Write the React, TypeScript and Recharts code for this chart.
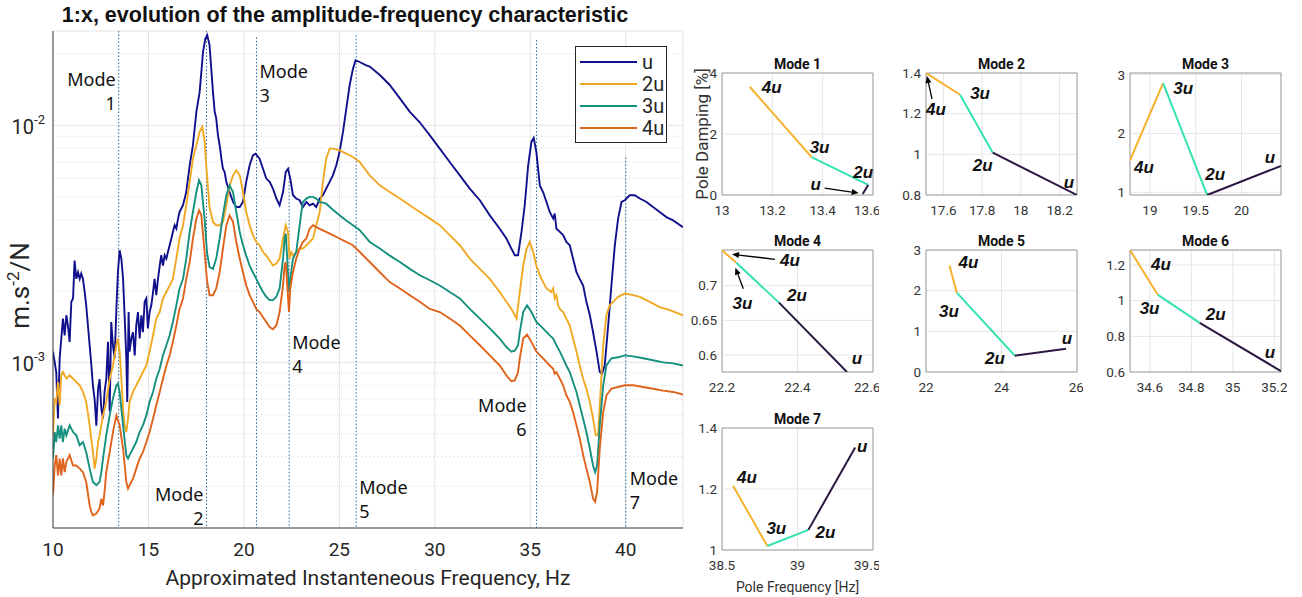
import React from "react";
import {
  LineChart,
  Line,
  XAxis,
  YAxis,
  CartesianGrid,
  ReferenceLine,
  ReferenceArea,
  Legend,
  LabelList,
} from "recharts";

type Pt = [number, number];

// main plot: [frequency Hz, amplitude m.s^-2/N]
const uCurve: Pt[] = [
  [10.0, 1.11e-3], [10.09, 1.0e-3], [10.17, 9.1e-4], [10.26, 5.8e-4], [10.35, 1.04e-3], [10.52, 1.53e-3],
  [10.61, 1.3e-3], [10.7, 1.58e-3], [10.78, 1.43e-3], [10.87, 1.22e-3], [10.96, 1.8e-3], [11.05, 1.86e-3],
  [11.13, 2.69e-3], [11.22, 2.25e-3], [11.31, 2.4e-3], [11.4, 2.25e-3], [11.48, 2.37e-3], [11.57, 2.25e-3],
  [11.66, 1.98e-3], [11.74, 1.74e-3], [11.83, 1.43e-3], [11.92, 1.18e-3], [12.01, 9.7e-4], [12.09, 8.0e-4],
  [12.18, 7.0e-4], [12.27, 5.4e-4], [12.36, 7.7e-4], [12.44, 8.5e-4], [12.53, 6.4e-4], [12.62, 5.8e-4],
  [12.7, 7.5e-4], [12.79, 8.5e-4], [12.88, 1.22e-3], [12.97, 6.2e-4], [13.05, 1.48e-3], [13.14, 1.18e-3],
  [13.23, 1.04e-3], [13.32, 1.68e-3], [13.4, 2.4e-3], [13.49, 2.97e-3], [13.58, 2.74e-3], [13.67, 2.25e-3],
  [13.75, 1.58e-3], [13.84, 1.04e-3], [13.89, 6.8e-4], [13.96, 1.63e-3], [14.01, 1.11e-3], [14.1, 1.26e-3],
  [14.19, 1.34e-3], [14.28, 1.07e-3], [14.36, 1.43e-3], [14.45, 1.63e-3], [14.54, 1.26e-3], [14.63, 1.58e-3],
  [14.71, 1.34e-3], [14.8, 1.8e-3], [14.89, 1.86e-3], [14.97, 1.39e-3], [15.06, 1.63e-3], [15.15, 1.74e-3],
  [15.24, 1.98e-3], [15.32, 2.25e-3], [15.41, 1.92e-3], [15.5, 2.25e-3], [15.59, 2.56e-3], [15.67, 2.83e-3],
  [15.76, 2.56e-3], [15.85, 2.83e-3], [15.94, 2.74e-3], [16.02, 2.92e-3], [16.11, 3.12e-3], [16.2, 3.33e-3],
  [16.28, 3.55e-3], [16.37, 3.79e-3], [16.46, 3.67e-3], [16.55, 4.04e-3], [16.63, 4.31e-3], [16.81, 4.6e-3],
  [16.98, 5.23e-3], [17.16, 6.78e-3], [17.33, 8.24e-3], [17.51, 1.14e-2], [17.68, 1.38e-2], [17.86, 2.04e-2],
  [17.98, 2.32e-2], [18.08, 2.4e-2], [18.2, 2.18e-2], [18.38, 1.38e-2], [18.47, 1.14e-2], [18.55, 1.07e-2],
  [18.64, 9.07e-3], [18.73, 8.24e-3], [18.82, 7.23e-3], [18.9, 6.56e-3], [18.99, 6.35e-3], [19.08, 5.77e-3],
  [19.25, 5.23e-3], [19.43, 4.75e-3], [19.6, 4.52e-3], [19.78, 4.52e-3], [19.95, 4.75e-3], [20.12, 5.77e-3],
  [20.3, 6.78e-3], [20.47, 7.47e-3], [20.61, 7.59e-3], [20.82, 7.23e-3], [21.0, 6.56e-3], [21.17, 5.96e-3],
  [21.35, 5.77e-3], [21.52, 5.41e-3], [21.7, 4.91e-3], [21.87, 4.6e-3], [22.05, 5.23e-3], [22.19, 6.35e-3],
  [22.31, 6.56e-3], [22.43, 5.96e-3], [22.57, 5.07e-3], [22.74, 4.91e-3], [22.92, 4.83e-3], [23.09, 4.52e-3],
  [23.27, 4.75e-3], [23.44, 4.6e-3], [23.62, 4.67e-3], [23.79, 4.52e-3], [23.97, 4.91e-3], [24.14, 5.07e-3],
  [24.31, 5.41e-3], [24.49, 5.77e-3], [24.66, 6.15e-3], [24.84, 6.78e-3], [25.01, 7.71e-3], [25.19, 9.38e-3],
  [25.36, 1.17e-2], [25.54, 1.48e-2], [25.71, 1.73e-2], [25.85, 1.88e-2], [26.06, 1.85e-2], [26.41, 1.79e-2],
  [26.59, 1.77e-2], [27.12, 1.63e-2], [27.64, 1.48e-2], [28.17, 1.3e-2], [28.69, 1.14e-2], [29.21, 1.03e-2],
  [29.74, 9.07e-3], [30.26, 7.97e-3], [30.78, 7.0e-3], [31.31, 6.15e-3], [31.83, 5.41e-3], [32.36, 4.83e-3],
  [32.88, 4.17e-3], [33.4, 3.66e-3], [33.75, 3.33e-3], [34.01, 3.02e-3], [34.19, 2.83e-3], [34.36, 2.83e-3],
  [34.54, 3.55e-3], [34.71, 4.6e-3], [34.89, 6.78e-3], [35.06, 8.51e-3], [35.18, 8.85e-3], [35.32, 7.71e-3],
  [35.5, 5.58e-3], [35.67, 5.23e-3], [35.85, 4.75e-3], [36.02, 4.31e-3], [36.2, 4.04e-3], [36.28, 4.24e-3],
  [36.37, 3.66e-3], [36.55, 3.55e-3], [36.72, 3.44e-3], [36.89, 3.22e-3], [37.07, 3.12e-3], [37.24, 2.74e-3],
  [37.42, 2.4e-3], [37.59, 2.25e-3], [37.77, 2.11e-3], [37.94, 1.8e-3], [38.12, 1.58e-3], [38.29, 1.34e-3],
  [38.47, 1.11e-3], [38.64, 9.1e-4], [38.76, 8.95e-4], [38.9, 9.7e-4], [39.08, 1.43e-3], [39.25, 2.11e-3],
  [39.43, 3.12e-3], [39.6, 4.04e-3], [39.78, 4.75e-3], [39.95, 4.83e-3], [40.21, 5.07e-3], [40.47, 5.07e-3],
  [40.74, 4.91e-3], [41.09, 4.75e-3], [41.43, 4.52e-3], [41.78, 4.31e-3], [42.13, 4.1e-3], [42.48, 3.97e-3],
  [43.0, 3.72e-3],
];

const twoUCurve: Pt[] = [
  [10.0, 4.92e-4], [10.09, 7.03e-4], [10.17, 6.81e-4], [10.26, 8.26e-4], [10.35, 6.59e-4], [10.43, 8.81e-4],
  [10.52, 9.1e-4], [10.7, 8.53e-4], [10.87, 8.81e-4], [11.05, 8.53e-4], [11.22, 8.26e-4], [11.4, 8.0e-4],
  [11.57, 7.5e-4], [11.74, 6.81e-4], [11.92, 5.42e-4], [12.09, 4.18e-4], [12.18, 3.56e-4], [12.27, 3.92e-4],
  [12.36, 4.61e-4], [12.44, 4.92e-4], [12.62, 5.97e-4], [12.79, 6.81e-4], [12.97, 8.53e-4], [13.14, 9.7e-4],
  [13.32, 1.18e-3], [13.4, 1.26e-3], [13.49, 1.11e-3], [13.58, 8.53e-4], [13.67, 6.38e-4], [13.75, 5.42e-4],
  [13.84, 5.08e-4], [13.93, 5.78e-4], [14.01, 6.81e-4], [14.19, 7.5e-4], [14.36, 8.0e-4], [14.54, 8.53e-4],
  [14.71, 9.1e-4], [14.89, 9.7e-4], [15.06, 1.11e-3], [15.24, 1.3e-3], [15.41, 1.53e-3], [15.59, 1.63e-3],
  [15.76, 1.86e-3], [15.94, 1.98e-3], [16.11, 2.11e-3], [16.28, 2.25e-3], [16.46, 2.74e-3], [16.63, 3.33e-3],
  [16.81, 3.79e-3], [16.98, 4.6e-3], [17.16, 5.77e-3], [17.33, 7.23e-3], [17.51, 8.24e-3], [17.68, 9.38e-3],
  [17.82, 9.84e-3], [17.94, 8.6e-3], [18.05, 6.4e-3], [18.2, 4.5e-3], [18.38, 3.91e-3], [18.55, 3.79e-3],
  [18.73, 3.79e-3], [18.9, 3.91e-3], [19.08, 4.6e-3], [19.25, 5.58e-3], [19.43, 6.15e-3], [19.6, 6.46e-3],
  [19.78, 6.15e-3], [19.95, 5.23e-3], [20.12, 4.31e-3], [20.3, 3.79e-3], [20.47, 3.44e-3], [20.65, 3.22e-3],
  [20.82, 3.12e-3], [21.0, 2.92e-3], [21.17, 2.82e-3], [21.35, 2.69e-3], [21.52, 2.56e-3], [21.7, 2.61e-3],
  [21.87, 2.74e-3], [22.05, 3.33e-3], [22.19, 3.79e-3], [22.31, 3.55e-3], [22.39, 2.74e-3], [22.48, 2.92e-3],
  [22.57, 2.82e-3], [22.74, 2.92e-3], [22.92, 3.02e-3], [23.09, 3.02e-3], [23.27, 3.12e-3], [23.44, 3.22e-3],
  [23.62, 3.33e-3], [23.79, 3.79e-3], [23.97, 4.31e-3], [24.14, 5.77e-3], [24.31, 7.23e-3], [24.49, 7.97e-3],
  [24.66, 7.97e-3], [25.01, 7.85e-3], [25.36, 7.59e-3], [25.71, 7.35e-3], [26.06, 7.0e-3], [26.59, 6.15e-3],
  [27.12, 5.58e-3], [27.64, 5.23e-3], [28.17, 4.91e-3], [28.69, 4.6e-3], [29.21, 4.31e-3], [29.74, 4.04e-3],
  [30.26, 3.79e-3], [30.78, 3.44e-3], [31.31, 3.12e-3], [31.83, 2.74e-3], [32.36, 2.48e-3], [32.88, 2.25e-3],
  [33.4, 1.98e-3], [33.75, 1.8e-3], [34.01, 1.68e-3], [34.19, 1.58e-3], [34.28, 1.53e-3], [34.45, 1.98e-3],
  [34.63, 2.56e-3], [34.8, 3.0e-3], [34.97, 3.22e-3], [35.15, 2.92e-3], [35.32, 2.56e-3], [35.5, 2.33e-3],
  [35.67, 2.18e-3], [35.85, 2.05e-3], [36.11, 1.98e-3], [36.2, 2.05e-3], [36.28, 1.86e-3], [36.37, 1.92e-3],
  [36.46, 1.74e-3], [36.55, 1.68e-3], [36.72, 1.63e-3], [36.89, 1.53e-3], [37.07, 1.43e-3], [37.24, 1.26e-3],
  [37.42, 1.11e-3], [37.59, 9.7e-4], [37.77, 8.53e-4], [37.94, 7.74e-4], [38.12, 6.81e-4], [38.29, 5.78e-4],
  [38.43, 4.92e-4], [38.55, 4.92e-4], [38.68, 7.5e-4], [38.82, 1.18e-3], [38.99, 1.58e-3], [39.16, 1.74e-3],
  [39.34, 1.8e-3], [39.6, 1.89e-3], [39.95, 1.95e-3], [40.39, 1.92e-3], [40.74, 1.89e-3], [41.26, 1.8e-3],
  [41.78, 1.71e-3], [42.31, 1.66e-3], [43.0, 1.58e-3],
];

const threeUCurve: Pt[] = [
  [10.0, 3.93e-4], [10.09, 5.08e-4], [10.17, 4.61e-4], [10.26, 5.42e-4], [10.35, 4.77e-4], [10.43, 5.42e-4],
  [10.52, 4.61e-4], [10.61, 5.25e-4], [10.7, 4.92e-4], [10.87, 5.42e-4], [11.05, 5.08e-4], [11.22, 4.92e-4],
  [11.4, 4.47e-4], [11.57, 4.61e-4], [11.74, 4.18e-4], [11.92, 3.56e-4], [12.09, 3.13e-4], [12.27, 3.03e-4],
  [12.44, 3.13e-4], [12.53, 3.44e-4], [12.62, 3.93e-4], [12.79, 4.92e-4], [12.97, 5.97e-4], [13.14, 7.03e-4],
  [13.32, 8.0e-4], [13.4, 8.14e-4], [13.49, 7.5e-4], [13.67, 5.42e-4], [13.84, 4.06e-4], [13.93, 3.93e-4],
  [14.01, 4.06e-4], [14.19, 4.33e-4], [14.36, 4.61e-4], [14.54, 5.08e-4], [14.71, 5.42e-4], [14.89, 5.97e-4],
  [15.06, 6.81e-4], [15.24, 7.5e-4], [15.41, 8.53e-4], [15.59, 9.39e-4], [15.76, 1.07e-3], [15.94, 1.18e-3],
  [16.11, 1.3e-3], [16.28, 1.48e-3], [16.46, 1.74e-3], [16.63, 2.05e-3], [16.81, 2.25e-3], [16.98, 2.74e-3],
  [17.16, 3.55e-3], [17.33, 4.31e-3], [17.51, 5.23e-3], [17.65, 5.86e-3], [17.77, 5.58e-3], [17.94, 4.04e-3],
  [18.07, 2.9e-3], [18.2, 2.52e-3], [18.38, 2.48e-3], [18.55, 2.74e-3], [18.73, 3.33e-3], [18.9, 4.17e-3],
  [19.08, 5.07e-3], [19.25, 5.58e-3], [19.43, 5.23e-3], [19.6, 4.31e-3], [19.78, 3.55e-3], [19.95, 3.12e-3],
  [20.12, 2.82e-3], [20.3, 2.56e-3], [20.47, 2.4e-3], [20.65, 2.25e-3], [20.82, 2.11e-3], [21.0, 1.98e-3],
  [21.17, 1.89e-3], [21.35, 1.83e-3], [21.52, 1.83e-3], [21.7, 1.89e-3], [21.87, 2.05e-3], [22.05, 2.74e-3],
  [22.13, 3.33e-3], [22.19, 3.49e-3], [22.27, 2.74e-3], [22.36, 1.98e-3], [22.43, 2.25e-3], [22.57, 2.74e-3],
  [22.74, 2.92e-3], [22.92, 3.79e-3], [23.01, 4.31e-3], [23.09, 4.75e-3], [23.27, 4.91e-3], [23.44, 4.99e-3],
  [23.62, 4.99e-3], [23.79, 4.91e-3], [23.97, 4.75e-3], [24.31, 4.67e-3], [24.66, 4.4e-3], [25.01, 4.17e-3],
  [25.36, 3.97e-3], [25.71, 3.79e-3], [26.07, 3.61e-3], [26.59, 3.22e-3], [27.12, 3.02e-3], [27.64, 2.82e-3],
  [28.17, 2.65e-3], [28.69, 2.48e-3], [29.21, 2.33e-3], [29.74, 2.22e-3], [30.26, 2.11e-3], [30.78, 1.98e-3],
  [31.31, 1.86e-3], [31.83, 1.68e-3], [32.36, 1.53e-3], [32.88, 1.39e-3], [33.4, 1.26e-3], [33.75, 1.16e-3],
  [34.01, 1.11e-3], [34.19, 1.12e-3], [34.36, 1.18e-3], [34.45, 1.34e-3], [34.63, 1.63e-3], [34.83, 1.74e-3],
  [35.06, 1.63e-3], [35.32, 1.48e-3], [35.67, 1.39e-3], [36.02, 1.3e-3], [36.2, 1.26e-3], [36.37, 1.18e-3],
  [36.55, 1.11e-3], [36.72, 1.04e-3], [36.89, 9.7e-4], [37.07, 9.1e-4], [37.24, 8.26e-4], [37.42, 7.5e-4],
  [37.59, 6.59e-4], [37.77, 5.78e-4], [37.94, 5.08e-4], [38.12, 4.33e-4], [38.29, 3.67e-4], [38.4, 3.44e-4],
  [38.5, 3.67e-4], [38.64, 5.42e-4], [38.82, 8.0e-4], [38.99, 9.7e-4], [39.25, 1.04e-3], [39.6, 1.05e-3],
  [39.95, 1.07e-3], [40.39, 1.06e-3], [40.91, 1.04e-3], [41.43, 1.02e-3], [41.96, 1.0e-3], [42.48, 9.9e-4],
  [43.0, 9.7e-4],
];

const fourUCurve: Pt[] = [
  [10.0, 2.75e-4], [10.09, 3.67e-4], [10.17, 4.06e-4], [10.26, 3.33e-4], [10.35, 3.93e-4], [10.43, 3.33e-4],
  [10.52, 3.93e-4], [10.61, 3.44e-4], [10.7, 3.8e-4], [10.87, 4.06e-4], [11.05, 3.67e-4], [11.22, 3.67e-4],
  [11.4, 3.56e-4], [11.57, 3.44e-4], [11.74, 3.13e-4], [11.92, 2.49e-4], [12.01, 2.34e-4], [12.09, 2.26e-4],
  [12.27, 2.3e-4], [12.44, 2.42e-4], [12.53, 2.66e-4], [12.62, 2.49e-4], [12.7, 2.84e-4], [12.79, 3.44e-4],
  [12.97, 4.18e-4], [13.14, 5.08e-4], [13.32, 5.97e-4], [13.49, 5.42e-4], [13.67, 4.33e-4], [13.84, 3.13e-4],
  [13.93, 2.93e-4], [14.01, 3.03e-4], [14.19, 3.23e-4], [14.36, 3.56e-4], [14.54, 3.93e-4], [14.71, 4.18e-4],
  [14.89, 4.61e-4], [15.06, 5.08e-4], [15.24, 5.78e-4], [15.41, 6.59e-4], [15.59, 7.5e-4], [15.76, 8.53e-4],
  [15.94, 9.7e-4], [16.11, 1.07e-3], [16.28, 1.22e-3], [16.46, 1.43e-3], [16.63, 1.68e-3], [16.81, 1.86e-3],
  [16.98, 2.25e-3], [17.16, 2.65e-3], [17.33, 3.33e-3], [17.51, 4.04e-3], [17.65, 4.38e-3], [17.77, 4.17e-3],
  [17.94, 2.92e-3], [18.07, 2.2e-3], [18.2, 1.92e-3], [18.38, 1.92e-3], [18.55, 2.05e-3], [18.73, 2.4e-3],
  [18.9, 3.02e-3], [19.08, 3.79e-3], [19.25, 4.17e-3], [19.43, 3.91e-3], [19.6, 3.22e-3], [19.78, 2.74e-3],
  [19.95, 2.4e-3], [20.12, 2.11e-3], [20.3, 1.92e-3], [20.47, 1.8e-3], [20.65, 1.68e-3], [20.82, 1.63e-3],
  [21.0, 1.55e-3], [21.17, 1.48e-3], [21.35, 1.41e-3], [21.52, 1.38e-3], [21.7, 1.43e-3], [21.87, 1.63e-3],
  [22.05, 2.11e-3], [22.13, 2.56e-3], [22.19, 2.65e-3], [22.27, 2.11e-3], [22.36, 1.63e-3], [22.43, 2.05e-3],
  [22.57, 2.4e-3], [22.74, 2.74e-3], [22.92, 3.02e-3], [23.09, 3.22e-3], [23.27, 3.33e-3], [23.44, 3.66e-3],
  [23.62, 3.79e-3], [23.79, 3.72e-3], [23.97, 3.66e-3], [24.31, 3.55e-3], [24.66, 3.44e-3], [25.01, 3.33e-3],
  [25.36, 3.22e-3], [25.71, 3.12e-3], [26.07, 2.92e-3], [26.59, 2.65e-3], [27.12, 2.4e-3], [27.64, 2.18e-3],
  [28.17, 2.05e-3], [28.69, 1.92e-3], [29.21, 1.8e-3], [29.74, 1.68e-3], [30.26, 1.63e-3], [30.78, 1.53e-3],
  [31.31, 1.43e-3], [31.83, 1.3e-3], [32.36, 1.18e-3], [32.88, 1.07e-3], [33.4, 9.7e-4], [33.75, 8.81e-4],
  [34.01, 8.32e-4], [34.19, 8.39e-4], [34.36, 9.1e-4], [34.45, 1.04e-3], [34.63, 1.26e-3], [34.83, 1.31e-3],
  [35.06, 1.22e-3], [35.32, 1.11e-3], [35.67, 1.04e-3], [36.02, 9.7e-4], [36.2, 9.39e-4], [36.28, 8.95e-4],
  [36.37, 9.1e-4], [36.55, 8.53e-4], [36.72, 8.0e-4], [36.89, 7.26e-4], [37.07, 6.81e-4], [37.24, 6.17e-4],
  [37.42, 5.42e-4], [37.59, 4.77e-4], [37.77, 4.06e-4], [37.94, 3.56e-4], [38.12, 3.13e-4], [38.29, 2.66e-4],
  [38.4, 2.58e-4], [38.5, 2.84e-4], [38.64, 4.33e-4], [38.82, 6.17e-4], [38.99, 7.26e-4], [39.25, 7.74e-4],
  [39.6, 7.87e-4], [39.95, 8.0e-4], [40.39, 8.0e-4], [40.91, 7.87e-4], [41.43, 7.74e-4], [41.96, 7.6e-4],
  [42.48, 7.5e-4], [43.0, 7.31e-4],
];

const seriesNames = ["u", "2u", "3u", "4u"];
const seriesColors = ["#10108c", "#efa923", "#15907e", "#e0631b"];
const seriesCurves = [uCurve, twoUCurve, threeUCurve, fourUCurve];

const freqTicks = [10, 15, 20, 25, 30, 35, 40];
const ampTicks = [1e-3, 1e-2];
const ampMinor = [3e-4, 4e-4, 5e-4, 6e-4, 7e-4, 8e-4, 9e-4, 2e-3, 3e-3, 4e-3, 5e-3, 6e-3, 7e-3, 8e-3, 9e-3, 2e-2];

const modeNumbers = ["1", "2", "3", "4", "5", "6", "7"];
const modeFreqs = [13.44, 18.04, 20.66, 22.37, 25.88, 35.33, 40.0];
const modeLineTops = [0.025, 0.025, 0.0235, 0.00665, 0.024, 0.0229, 0.00732];
// where each "Mode n" caption sits relative to its line (px)
const modeCaption = [
  { anchor: "end", dx: -3, y: 80 },
  { anchor: "end", dx: -3, y: 495 },
  { anchor: "start", dx: 3, y: 72 },
  { anchor: "start", dx: 3, y: 343 },
  { anchor: "start", dx: 3, y: 488 },
  { anchor: "end", dx: -10, y: 406 },
  { anchor: "start", dx: 4, y: 479 },
];

// subplots: points in order 4u, 3u, 2u, u
const pointNames = ["4u", "3u", "2u", "u"];
const segmentColors = ["#f6b12e", "#35e2b2", "#2b1741"];

const mode1Freq = [13.11, 13.356, 13.581, 13.559];
const mode1Damp = [3.55, 1.24, 0.33, 0.03];
const mode2Freq = [17.51, 17.686, 17.855, 18.29];
const mode2Damp = [1.4, 1.293, 1.008, 0.8];
const mode3Freq = [18.783, 19.144, 19.625, 20.43];
const mode3Damp = [1.545, 2.858, 0.955, 1.45];
const mode4Freq = [22.2, 22.238, 22.351, 22.531];
const mode4Damp = [0.751, 0.733, 0.6755, 0.5755];
const mode5Freq = [22.62, 22.82, 24.355, 25.71];
const mode5Damp = [2.62, 1.945, 0.4, 0.57];
const mode6Freq = [34.504, 34.637, 34.84, 35.232];
const mode6Damp = [1.284, 1.034, 0.875, 0.605];
const mode7Freq = [38.573, 38.8, 39.072, 39.382];
const mode7Damp = [1.211, 1.013, 1.066, 1.336];

const AXIS_FONT = "Roboto, 'Liberation Sans', Arial, sans-serif";
const TITLE_FONT = "'Liberation Sans', Arial, sans-serif";
const MODE_FONT = "'Noto Sans', 'Open Sans', sans-serif";

const PowerTick = (props: any) => {
  const { x, y, payload } = props;
  const exp = Math.round(Math.log10(payload.value));
  return (
    <text x={x} y={y + 9} textAnchor="end" fill="#262626" fontFamily={AXIS_FONT} fontSize={20}>
      <tspan>10</tspan>
      <tspan fontSize={13} dy={-10}>{`${exp}`}</tspan>
    </text>
  );
};

const yAxisTitle = (props: any) => {
  const vb = props.viewBox || { x: 0, y: 31, width: 53, height: 497 };
  const cx = vb.x + 20;
  const cy = vb.y + vb.height / 2 + 6;
  return (
    <text
      x={cx}
      y={cy + 9}
      transform={`rotate(-90 ${cx} ${cy})`}
      textAnchor="middle"
      fill="#262626"
      fontFamily={AXIS_FONT}
      fontSize={26}
    >
      m.s<tspan fontSize={17} dy={-10}>-2</tspan>
      <tspan dy={10}>/N</tspan>
    </text>
  );
};

const xAxisTitle = (props: any) => {
  const vb = props.viewBox || { x: 53, y: 528, width: 630, height: 69 };
  return (
    <text
      x={vb.x + vb.width / 2}
      y={vb.y + 57}
      textAnchor="middle"
      fill="#262626"
      fontFamily={AXIS_FONT}
      fontSize={21}
    >
      Approximated Instanteneous Frequency, Hz
    </text>
  );
};

const modeLabel = (i: number) => (props: any) => {
  const vb = props.viewBox || {};
  const c = modeCaption[i];
  const x = (vb.x ?? 0) + c.dx;
  return (
    <text textAnchor={c.anchor} fill="#111" fontFamily={MODE_FONT} fontSize={18}>
      <tspan x={x} y={c.y + 6}>Mode</tspan>
      <tspan x={x} y={c.y + 30}>{modeNumbers[i]}</tspan>
    </text>
  );
};

const renderLegend = (props: any) => {
  const payload = [...(props.payload || [])].sort(
    (a: any, b: any) => seriesNames.indexOf(a.value) - seriesNames.indexOf(b.value)
  );
  return (
    <div
      style={{
        width: 92,
        height: 97,
        border: "1px solid #262626",
        background: "#fff",
        boxSizing: "border-box",
        paddingTop: 4,
      }}
    >
      {payload.map((p: any) => (
        <div key={p.value} style={{ display: "flex", alignItems: "center", height: 22 }}>
          <svg width={66} height={6}>
            <line x1={4} x2={61} y1={3} y2={3} stroke={p.color} strokeWidth={2} />
          </svg>
          <span style={{ fontFamily: AXIS_FONT, fontSize: 20, color: "#262626", lineHeight: "22px" }}>
            {p.value}
          </span>
        </div>
      ))}
    </div>
  );
};

function MainChart() {
  return (
    <div style={{ position: "absolute", left: 0, top: 0, width: 700, height: 597 }}>
      <LineChart width={700} height={597} margin={{ top: 31, right: 17, bottom: 0, left: 0 }}>
        <CartesianGrid stroke="#e3e3e3" />
        {ampMinor.map((v) => (
          <ReferenceLine key={v} y={v} stroke="#d2d2d2" strokeDasharray="1 3" />
        ))}
        <XAxis
          type="number"
          dataKey="f"
          domain={[10, 43]}
          ticks={freqTicks}
          allowDataOverflow
          height={69}
          tickLine={false}
          tickMargin={9}
          stroke="#404040"
          tick={{ fontSize: 19, fill: "#262626", fontFamily: AXIS_FONT }}
          label={xAxisTitle}
        />
        <YAxis
          type="number"
          scale="log"
          domain={[2e-4, 0.025]}
          ticks={ampTicks}
          allowDataOverflow
          width={53}
          tickLine={false}
          stroke="#404040"
          tick={(p: any) => <PowerTick {...p} />}
          label={yAxisTitle}
        />
        {modeFreqs.map((f, i) => (
          <ReferenceLine
            key={"mode" + i}
            segment={[
              { x: f, y: modeLineTops[i] },
              { x: f, y: 2e-4 },
            ]}
            stroke="#2a6a9e"
            strokeDasharray="1.5 2"
            ifOverflow="visible"
            label={modeLabel(i)}
          />
        ))}
        {seriesCurves.map((c, i) => (
          <Line
            key={seriesNames[i]}
            data={c.map(([f, v]) => ({ f, v }))}
            dataKey="v"
            name={seriesNames[i]}
            type="linear"
            stroke={seriesColors[i]}
            strokeWidth={1.9}
            dot={false}
            isAnimationActive={false}
          />
        ))}
        <Legend
          layout="horizontal"
          verticalAlign="middle"
          align="center"
          content={renderLegend}
          wrapperStyle={{ left: 575, top: 46, width: 92, height: 97 }}
        />
      </LineChart>
      <div
        style={{
          position: "absolute",
          left: 0,
          top: 3,
          width: 690,
          textAlign: "center",
          fontFamily: TITLE_FONT,
          fontWeight: "bold",
          fontSize: 21.5,
          lineHeight: "24px",
          color: "#111",
        }}
      >
        1:x, evolution of the amplitude-frequency characteristic
      </div>
    </div>
  );
}

const Arrow = ({ x1, y1, x2, y2 }: { x1: number; y1: number; x2: number; y2: number }) => {
  const a = Math.atan2(y2 - y1, x2 - x1);
  const len = 7;
  const w = 3;
  const bx = x2 - len * Math.cos(a);
  const by = y2 - len * Math.sin(a);
  const p1 = `${bx + w * Math.sin(a)},${by - w * Math.cos(a)}`;
  const p2 = `${bx - w * Math.sin(a)},${by + w * Math.cos(a)}`;
  return (
    <g>
      <line x1={x1} y1={y1} x2={bx} y2={by} stroke="#000" strokeWidth={1.3} />
      <polygon points={`${x2},${y2} ${p1} ${p2}`} fill="#000" />
    </g>
  );
};

const SMALL_W = 151;
const SMALL_H = 122;

type ArrowSpec = { i: number; from: [number, number]; to: [number, number] };

function ModeChart(props: {
  title: string;
  freq: number[];
  damp: number[];
  xDomain: [number, number];
  yDomain: [number, number];
  xTicks: number[];
  yTicks: number[];
  left: number;
  top: number;
  offsets: [number, number][];
  arrows?: ArrowSpec[];
  yTitle?: string;
  xTitle?: string;
}) {
  const { title, freq, damp, xDomain, yDomain, xTicks, yTicks, left, top, offsets, arrows = [], yTitle, xTitle } = props;
  const pts = freq.map((f, i) => ({ f, d: damp[i], name: pointNames[i] }));
  const segs = [0, 1, 2].map((i) => pts.slice(i, i + 2));
  const bottomH = xTitle ? 46 : 26;

  const renderPointLabel = (lp: any) => {
    const vb = lp.viewBox || {};
    const x = lp.x ?? vb.x;
    const y = lp.y ?? vb.y;
    const i = pointNames.indexOf(lp.value);
    if (i < 0 || x == null || y == null) return null;
    const [dx, dy] = offsets[i];
    return (
      <g key={"lbl" + i}>
        <text
          x={x + dx}
          y={y + dy + 6}
          textAnchor="middle"
          fontSize={17}
          fontWeight="bold"
          fontStyle="italic"
          fontFamily={TITLE_FONT}
          fill="#111"
        >
          {lp.value}
        </text>
        {arrows
          .filter((a) => a.i === i)
          .map((a, k) => (
            <Arrow key={k} x1={x + a.from[0]} y1={y + a.from[1]} x2={x + a.to[0]} y2={y + a.to[1]} />
          ))}
      </g>
    );
  };

  const tickStyle = { fontSize: 13.5, fill: "#333", fontFamily: AXIS_FONT };

  return (
    <div style={{ position: "absolute", left: left - 40, top: top - 22 }}>
      <LineChart width={40 + SMALL_W + 6} height={22 + SMALL_H + bottomH} margin={{ top: 22, right: 6, bottom: 0, left: 0 }}>
        <CartesianGrid stroke="#e6e6e6" />
        <XAxis
          type="number"
          dataKey="f"
          domain={xDomain}
          ticks={xTicks}
          allowDataOverflow
          height={bottomH}
          axisLine={false}
          tickLine={false}
          tickSize={0}
          tickMargin={10}
          tick={tickStyle}
          label={
            xTitle
              ? (lp: any) => {
                  const vb = lp.viewBox || { x: 40, y: 22 + SMALL_H, width: SMALL_W };
                  return (
                    <text x={vb.x + vb.width / 2} y={vb.y + 42} textAnchor="middle" fontSize={14} fill="#333" fontFamily={AXIS_FONT}>
                      {xTitle}
                    </text>
                  );
                }
              : undefined
          }
        />
        <YAxis
          type="number"
          domain={yDomain}
          ticks={yTicks}
          allowDataOverflow
          width={40}
          axisLine={false}
          tickLine={false}
          tickSize={0}
          tickMargin={5}
          tick={tickStyle}
          label={
            yTitle
              ? (lp: any) => {
                  const vb = lp.viewBox || { x: 0, y: 22, height: SMALL_H };
                  const cx = vb.x + 20;
                  const cy = vb.y + vb.height / 2;
                  return (
                    <text x={cx} y={cy + 6} transform={`rotate(-90 ${cx} ${cy})`} textAnchor="middle" fontSize={17} fill="#333" fontFamily={AXIS_FONT}>
                      {yTitle}
                    </text>
                  );
                }
              : undefined
          }
        />
        <ReferenceArea
          x1={xDomain[0]}
          x2={xDomain[1]}
          y1={yDomain[0]}
          y2={yDomain[1]}
          fill="none"
          fillOpacity={0}
          stroke="#9e9e9e"
          strokeWidth={1}
          ifOverflow="visible"
        />
        {segs.map((s, i) => (
          <Line
            key={"seg" + i}
            data={s}
            dataKey="d"
            type="linear"
            stroke={segmentColors[i]}
            strokeWidth={2}
            dot={false}
            isAnimationActive={false}
          />
        ))}
        <Line data={pts} dataKey="d" stroke="none" dot={false} isAnimationActive={false}>
          <LabelList dataKey="name" content={renderPointLabel} />
        </Line>
      </LineChart>
      <div
        style={{
          position: "absolute",
          left: 40,
          top: 5,
          width: SMALL_W,
          textAlign: "center",
          fontFamily: AXIS_FONT,
          fontWeight: "bold",
          fontSize: 14,
          lineHeight: "16px",
          color: "#111",
        }}
      >
        {title}
      </div>
    </div>
  );
}

const colLeft = [722, 926, 1130];
const rowTop = [73, 250, 428];

export default function App() {
  return (
    <div style={{ position: "absolute", left: 0, top: 0, width: 1302, height: 597, background: "#fff", overflow: "hidden" }}>
      <MainChart />
      <ModeChart
        title="Mode 1"
        freq={mode1Freq}
        damp={mode1Damp}
        xDomain={[13, 13.6]}
        yDomain={[0, 4]}
        xTicks={[13, 13.2, 13.4, 13.6]}
        yTicks={[0, 2, 4]}
        left={colLeft[0]}
        top={rowTop[0]}
        offsets={[[22, 0], [8, -10], [-5, -13], [-47, -10]]}
        arrows={[{ i: 3, from: [-38, -6], to: [-4, -1] }]}
        yTitle="Pole Damping [%]"
      />
      <ModeChart
        title="Mode 2"
        freq={mode2Freq}
        damp={mode2Damp}
        xDomain={[17.51, 18.29]}
        yDomain={[0.8, 1.4]}
        xTicks={[17.6, 17.8, 18, 18.2]}
        yTicks={[0.8, 1, 1.2, 1.4]}
        left={colLeft[1]}
        top={rowTop[0]}
        offsets={[[10, 36], [20, -2], [-10, 12], [-8, -13]]}
        arrows={[{ i: 0, from: [6, 26], to: [1, 3] }]}
      />
      <ModeChart
        title="Mode 3"
        freq={mode3Freq}
        damp={mode3Damp}
        xDomain={[18.783, 20.43]}
        yDomain={[0.955, 3.03]}
        xTicks={[19, 19.5, 20]}
        yTicks={[1, 2, 3]}
        left={colLeft[2]}
        top={rowTop[0]}
        offsets={[[14, 7], [20, 5], [8, -21], [-11, -9]]}
      />
      <ModeChart
        title="Mode 4"
        freq={mode4Freq}
        damp={mode4Damp}
        xDomain={[22.2, 22.6]}
        yDomain={[0.5755, 0.7514]}
        xTicks={[22.2, 22.4, 22.6]}
        yTicks={[0.6, 0.65, 0.7]}
        left={colLeft[0]}
        top={rowTop[1]}
        offsets={[[68, 10], [6, 40], [18, -8], [10, -14]]}
        arrows={[
          { i: 0, from: [53, 9], to: [10, 4] },
          { i: 1, from: [7, 26], to: [-1, 5] },
        ]}
      />
      <ModeChart
        title="Mode 5"
        freq={mode5Freq}
        damp={mode5Damp}
        xDomain={[22, 26]}
        yDomain={[0, 3]}
        xTicks={[22, 24, 26]}
        yTicks={[0, 1, 2, 3]}
        left={colLeft[1]}
        top={rowTop[1]}
        offsets={[[19, -3], [-8, 18], [-20, 2], [1, -11]]}
      />
      <ModeChart
        title="Mode 6"
        freq={mode6Freq}
        damp={mode6Damp}
        xDomain={[34.504, 35.232]}
        yDomain={[0.6, 1.284]}
        xTicks={[34.6, 34.8, 35, 35.2]}
        yTicks={[0.6, 0.8, 1, 1.2]}
        left={colLeft[2]}
        top={rowTop[1]}
        offsets={[[31, 14], [-8, 13], [16, -9], [-11, -19]]}
      />
      <ModeChart
        title="Mode 7"
        freq={mode7Freq}
        damp={mode7Damp}
        xDomain={[38.5, 39.5]}
        yDomain={[1, 1.4]}
        xTicks={[38.5, 39, 39.5]}
        yTicks={[1, 1.2, 1.4]}
        left={colLeft[0]}
        top={rowTop[2]}
        offsets={[[14, -9], [9, -18], [17, 2], [7, -2]]}
        xTitle="Pole Frequency [Hz]"
      />
    </div>
  );
}
